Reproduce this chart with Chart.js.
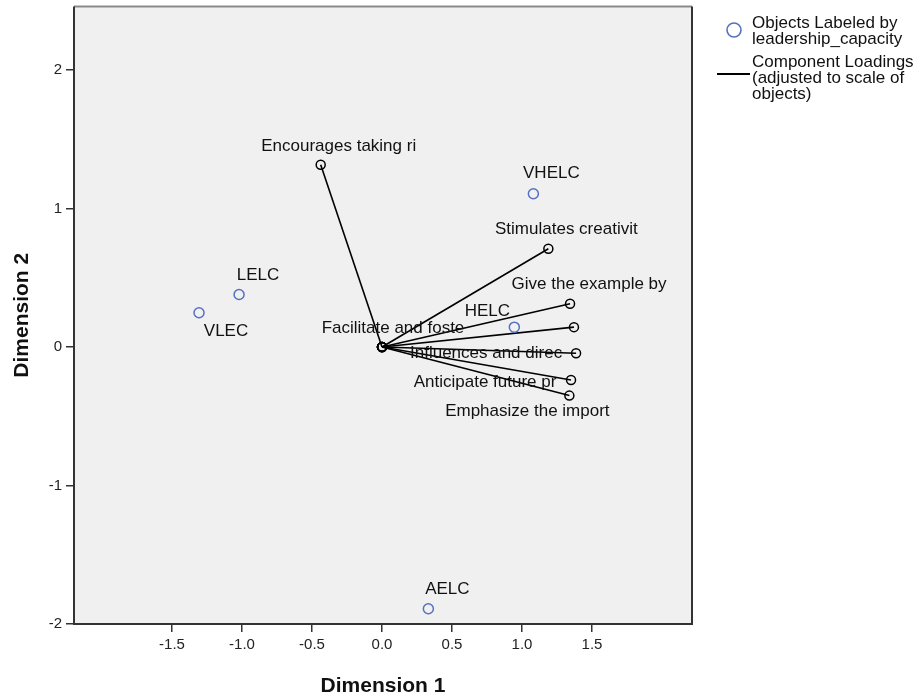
<!DOCTYPE html>
<html>
<head>
<meta charset="utf-8">
<script src="https://cdn.jsdelivr.net/npm/chart.js@4.4.0/dist/chart.umd.min.js"></script>
<style>
html,body{margin:0;padding:0;background:#fff;}
#wrap{width:919px;height:700px;}
</style>
</head>
<body>
<div id="wrap"><canvas id="c" width="919" height="700"></canvas></div>
<script>
// ---- Data ----
const objectLabels = ['VHELC', 'LELC', 'VLEC', 'HELC', 'AELC'];
const objectDim1 = [1.081, -1.021, -1.307, 0.945, 0.331];
const objectDim2 = [1.106, 0.379, 0.247, 0.143, -1.890];

const loadingLabels = ['Encourages taking ri', 'Stimulates creativit', 'Give the example by',
  'Facilitate and foste', 'Influences and direc', 'Anticipate future pr', 'Emphasize the import'];
const loadingDim1 = [-0.438, 1.188, 1.343, 1.371, 1.386, 1.350, 1.338];
const loadingDim2 = [1.316, 0.709, 0.312, 0.143, -0.045, -0.238, -0.351];

const xTicks = [-1.5, -1.0, -0.5, 0.0, 0.5, 1.0, 1.5];
const yTicks = [-2, -1, 0, 1, 2];

// ---- Styles (label placement in pixels, relative to the marker) ----
const objectLabelOffsets = [[18, -20], [19, -19], [27, 19], [-27, -16], [19, -19]];
const loadingLabelOffsets = [[18, -18], [18, -19], [19, -19], [-181, 1], [-90, 0], [-86, 2], [-42, 16]];

const FONT = '"Liberation Sans", Arial, Helvetica, sans-serif';
const BLUE = '#5670c4';

const datasets = [{
  label: 'Objects',
  data: objectDim1.map((x, i) => ({x: x, y: objectDim2[i]})),
  showLine: false,
  pointStyle: 'circle',
  pointRadius: 5,
  pointBorderWidth: 1.5,
  pointBorderColor: BLUE,
  pointBackgroundColor: 'rgba(0,0,0,0)'
}];
loadingLabels.forEach((lab, i) => {
  datasets.push({
    label: lab,
    data: [{x: 0, y: 0}, {x: loadingDim1[i], y: loadingDim2[i]}],
    showLine: true,
    borderColor: '#000',
    borderWidth: 1.6,
    pointRadius: 4.5,
    pointBorderWidth: 1.5,
    pointBorderColor: '#000',
    pointBackgroundColor: 'rgba(0,0,0,0)'
  });
});

const plotBg = {
  id: 'plotBg',
  beforeDatasetsDraw(chart) {
    const {ctx, chartArea: a} = chart;
    ctx.save();
    ctx.fillStyle = '#f0f0f0';
    ctx.fillRect(a.left, a.top, a.right - a.left, a.bottom - a.top);
    ctx.restore();
  },
  afterDatasetsDraw(chart) {
    const {ctx, chartArea: a} = chart;
    ctx.save();
    ctx.lineWidth = 2;
    ctx.strokeStyle = '#8a8a8a';
    ctx.beginPath(); ctx.moveTo(a.left, a.top); ctx.lineTo(a.right, a.top); ctx.stroke();
    ctx.strokeStyle = '#333';
    ctx.beginPath();
    ctx.moveTo(a.right, a.top); ctx.lineTo(a.right, a.bottom); ctx.lineTo(a.left, a.bottom); ctx.lineTo(a.left, a.top);
    ctx.stroke();
    ctx.restore();
  }
};

const pointLabels = {
  id: 'pointLabels',
  afterDatasetsDraw(chart) {
    const ctx = chart.ctx;
    ctx.save();
    ctx.font = '17px ' + FONT;
    ctx.fillStyle = '#111';
    ctx.textAlign = 'center';
    ctx.textBaseline = 'middle';
    const m0 = chart.getDatasetMeta(0);
    m0.data.forEach((el, i) => {
      const o = objectLabelOffsets[i];
      ctx.fillText(objectLabels[i], el.x + o[0], el.y + o[1]);
    });
    loadingLabels.forEach((lab, i) => {
      const el = chart.getDatasetMeta(i + 1).data[1];
      const o = loadingLabelOffsets[i];
      ctx.fillText(lab, el.x + o[0], el.y + o[1]);
    });
    ctx.restore();
  }
};

const legendPlugin = {
  id: 'customLegend',
  afterDraw(chart) {
    const ctx = chart.ctx;
    ctx.save();
    ctx.strokeStyle = BLUE;
    ctx.lineWidth = 1.6;
    ctx.beginPath(); ctx.arc(734, 30, 7, 0, Math.PI * 2); ctx.stroke();
    ctx.strokeStyle = '#000';
    ctx.lineWidth = 2;
    ctx.beginPath(); ctx.moveTo(717, 74); ctx.lineTo(750, 74); ctx.stroke();
    ctx.font = '17px ' + FONT;
    ctx.fillStyle = '#111';
    ctx.textAlign = 'left';
    ctx.textBaseline = 'middle';
    const lines = [['Objects Labeled by', 23], ['leadership_capacity', 39],
      ['Component Loadings', 62], ['(adjusted to scale of', 78], ['objects)', 94]];
    lines.forEach(l => ctx.fillText(l[0], 752, l[1]));
    ctx.restore();
  }
};

new Chart(document.getElementById('c'), {
  type: 'scatter',
  data: {datasets: datasets},
  plugins: [plotBg, pointLabels, legendPlugin],
  options: {
    responsive: false,
    devicePixelRatio: 1,
    animation: false,
    layout: {padding: {left: 0, top: 6, right: 227, bottom: 0}},
    plugins: {legend: {display: false}, tooltip: {enabled: false}},
    scales: {
      x: {
        type: 'linear', min: -2.2, max: 2.214,
        afterBuildTicks: s => { s.ticks = xTicks.map(v => ({value: v})); },
        afterFit: s => { s.height = 76; s.paddingLeft = 0; s.paddingRight = 0; },
        grid: {display: true, drawOnChartArea: false, drawTicks: true, tickLength: 8, color: '#333', lineWidth: 1.5},
        border: {display: false},
        ticks: {font: {family: FONT, size: 15}, color: '#222', padding: 4, maxRotation: 0,
          callback: v => Number(v).toFixed(1)},
        title: {display: true, text: 'Dimension 1', color: '#111',
          font: {family: FONT, size: 21, weight: 'bold', lineHeight: 1.2}, padding: {top: 0, bottom: 1}}
      },
      y: {
        type: 'linear', min: -2.0, max: 2.458,
        afterBuildTicks: s => { s.ticks = yTicks.map(v => ({value: v})); },
        afterFit: s => { s.width = 74; s.paddingTop = 0; s.paddingBottom = 0; },
        grid: {display: true, drawOnChartArea: false, drawTicks: true, tickLength: 8, color: '#333', lineWidth: 1.5},
        border: {display: false},
        ticks: {font: {family: FONT, size: 15}, color: '#222', padding: 4,
          callback: v => String(v)},
        title: {display: true, text: 'Dimension 2', color: '#111',
          font: {family: FONT, size: 21, weight: 'bold', lineHeight: 1.2}, padding: {top: 10, bottom: 0}}
      }
    }
  }
});
</script>
</body>
</html>
